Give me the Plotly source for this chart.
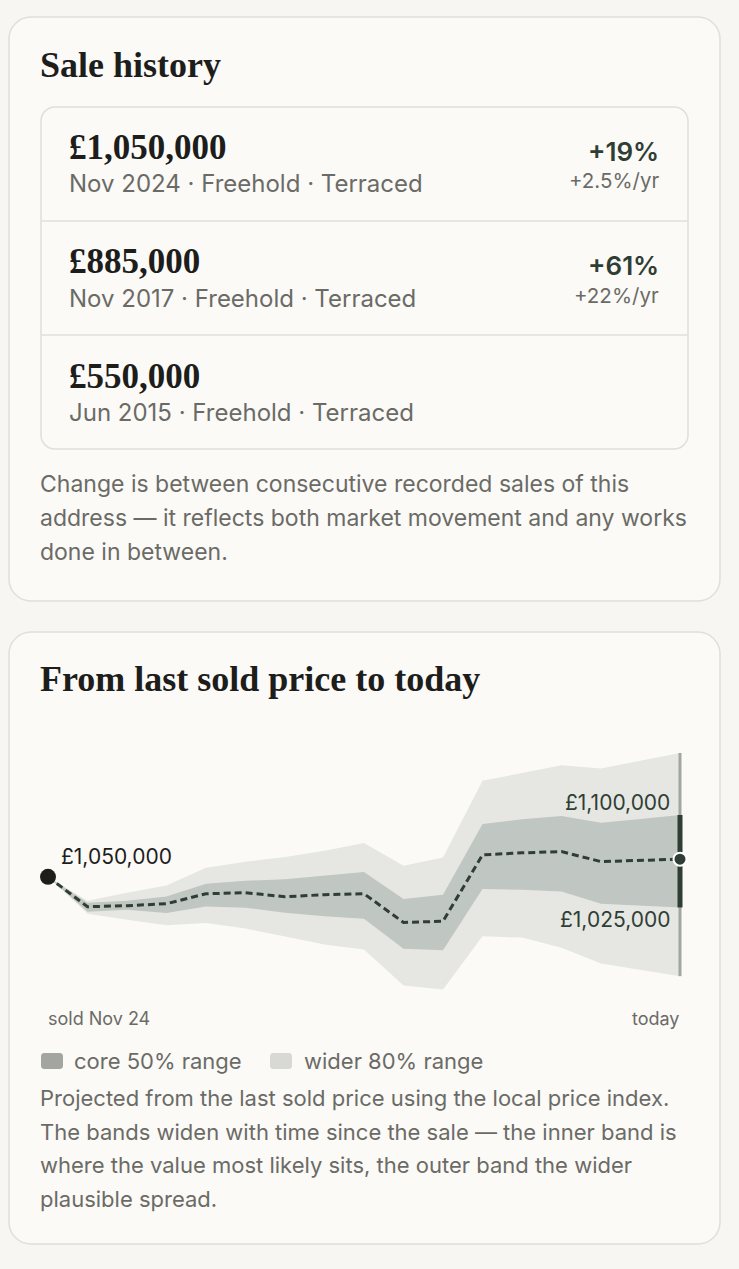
import plotly.graph_objects as go

# ---------------- data ----------------
sales_price = ["£1,050,000", "£885,000", "£550,000"]
sales_meta = ["Nov 2024 · Freehold · Terraced",
              "Nov 2017 · Freehold · Terraced",
              "Jun 2015 · Freehold · Terraced"]
sales_change = ["+19%", "+61%", ""]
sales_change_yr = ["+2.5%/yr", "+22%/yr", ""]

note1_lines = ["Change is between consecutive recorded sales of this",
               "address — it reflects both market movement and any works",
               "done in between."]
note2_lines = ["Projected from the last sold price using the local price index.",
               "The bands widen with time since the sale — the inner band is",
               "where the value most likely sits, the outer band the wider",
               "plausible spread."]

# monthly steps since sale (0 = sold Nov 24, 16 = today)
months = list(range(17))
median = [1050000, 1025800, 1026600, 1028200, 1036300, 1037100, 1033900, 1035500,
          1036300, 1013100, 1014000, 1067700, 1069400, 1070400, 1062300, 1063100, 1064300]
outer_top = [1050000, 1030600, 1037100, 1043000, 1057300, 1062100, 1066100, 1071000,
             1077400, 1058900, 1065600, 1127700, 1133900, 1140300, 1137700, 1144000, 1150200]
outer_bot = [1050000, 1020200, 1015300, 1010700, 1012700, 1008100, 1001600, 995200,
             991100, 962100, 958900, 1001900, 1000800, 992500, 979800, 975000, 969600]
inner_top = [1050000, 1029000, 1030600, 1034100, 1044400, 1046800, 1048100, 1050800,
             1053800, 1032000, 1035500, 1092700, 1096500, 1099200, 1093800, 1096800, 1100000]
inner_bot = [1050000, 1021800, 1023400, 1020700, 1026000, 1025000, 1021000, 1018000,
             1016100, 991700, 990600, 1040100, 1039500, 1038100, 1028200, 1026600, 1025200]
sold_price = 1050000
x_labels = ["sold Nov 24", "today"]
legend_labels = ["core 50% range", "wider 80% range"]

# ---------------- style ----------------
W, H = 739, 1269
PAGE_BG = "#f7f6f2"
CARD_BG = "#fbfaf7"
BORDER = "#e0dfd9"
DARK = "#1d1d1b"
GRAY = "#6b6b66"
GREEN = "#2f3e35"
OUTER = "#e6e7e3"
INNER = "#c0c6c1"
SW_CORE = "#a2a69f"
SW_WIDE = "#d8d9d4"
SERIF = "Liberation Serif"
SANS = "Inter"
PAD = 2  # annotation inner padding compensation


def X(px):
    return px / W


def Y(py):
    return 1 - py / H


def rrect(x0, y0, x1, y1, r, fill, line, lw=1.5):
    k = 0.5523 * r
    pts = [
        f"M {X(x0 + r)},{Y(y0)}",
        f"L {X(x1 - r)},{Y(y0)}",
        f"C {X(x1 - r + k)},{Y(y0)} {X(x1)},{Y(y0 + r - k)} {X(x1)},{Y(y0 + r)}",
        f"L {X(x1)},{Y(y1 - r)}",
        f"C {X(x1)},{Y(y1 - r + k)} {X(x1 - r + k)},{Y(y1)} {X(x1 - r)},{Y(y1)}",
        f"L {X(x0 + r)},{Y(y1)}",
        f"C {X(x0 + r - k)},{Y(y1)} {X(x0)},{Y(y1 - r + k)} {X(x0)},{Y(y1 - r)}",
        f"L {X(x0)},{Y(y0 + r)}",
        f"C {X(x0)},{Y(y0 + r - k)} {X(x0 + r - k)},{Y(y0)} {X(x0 + r)},{Y(y0)}",
        "Z",
    ]
    return dict(type="path", xref="paper", yref="paper", path=" ".join(pts),
                fillcolor=fill, line=dict(color=line, width=lw), layer="below")


def txt(px, py, text, size, color, family=SANS, anchor="left", weight=None):
    f = dict(family=family, size=size, color=color)
    if weight:
        f["weight"] = weight
    xx = px - PAD if anchor == "left" else px + PAD
    return dict(xref="paper", yref="paper", x=X(xx), y=Y(py), text=text,
                showarrow=False, xanchor=anchor, yanchor="middle", font=f)


shapes = []
ann = []

# ---- card 1: sale history ----
shapes.append(rrect(9, 17, 720, 601, 22, CARD_BG, BORDER))
ann.append(txt(40, 65, "<b>Sale history</b>", 36, DARK, SERIF))
shapes.append(rrect(41, 107, 688, 449, 14, CARD_BG, BORDER))
row_top = 107
row_h = 114
for i in range(len(sales_price)):
    top = row_top + i * row_h
    if i > 0:
        shapes.append(dict(type="line", xref="paper", yref="paper",
                           x0=X(41), x1=X(688), y0=Y(top), y1=Y(top),
                           line=dict(color=BORDER, width=1.5)))
    ann.append(txt(69, top + 41, f"<b>{sales_price[i]}</b>", 35, DARK, SERIF))
    ann.append(txt(69, top + 77, sales_meta[i], 24, GRAY))
    if sales_change[i]:
        ann.append(txt(659, top + 45, sales_change[i], 26, GREEN, anchor="right", weight=600))
        ann.append(txt(659, top + 74, sales_change_yr[i], 20.5, GRAY, anchor="right"))
for j, line in enumerate(note1_lines):
    ann.append(txt(40, 484 + 34 * j, line, 23, GRAY))

# ---- card 2: projection ----
shapes.append(rrect(9, 632, 720, 1244, 22, CARD_BG, BORDER))
ann.append(txt(40, 679, "<b>From last sold price to today</b>", 36, DARK, SERIF))

# legend
shapes.append(rrect(41, 1053, 63, 1069, 3, SW_CORE, SW_CORE, 0))
shapes.append(rrect(270, 1053, 292, 1069, 3, SW_WIDE, SW_WIDE, 0))
ann.append(txt(74, 1061, legend_labels[0], 22, GRAY))
ann.append(txt(304, 1061, legend_labels[1], 22, GRAY))
for j, line in enumerate(note2_lines):
    ann.append(txt(40, 1098 + 33.5 * j, line, 22, GRAY))

# ---- chart ----
fig = go.Figure()
rev = months[::-1]
fig.add_trace(go.Scatter(x=months + rev, y=outer_top + outer_bot[::-1], fill="toself",
                         fillcolor=OUTER, line=dict(width=0), mode="lines", hoverinfo="skip"))
fig.add_trace(go.Scatter(x=months + rev, y=inner_top + inner_bot[::-1], fill="toself",
                         fillcolor=INNER, line=dict(width=0), mode="lines", hoverinfo="skip"))
fig.add_trace(go.Scatter(x=months, y=median, mode="lines",
                         line=dict(color=GREEN, width=3, dash="7px,4px")))
last = months[-1]
fig.add_trace(go.Scatter(x=[last, last], y=[outer_bot[-1], outer_top[-1]], mode="lines",
                         line=dict(color="#a3a69f", width=3)))
fig.add_trace(go.Scatter(x=[last, last], y=[inner_bot[-1], inner_top[-1]], mode="lines",
                         line=dict(color=GREEN, width=5)))
fig.add_trace(go.Scatter(x=[0], y=[sold_price], mode="markers", cliponaxis=False,
                         marker=dict(size=16, color=DARK)))
fig.add_trace(go.Scatter(x=[last], y=[median[-1]], mode="markers", cliponaxis=False,
                         marker=dict(size=13, color=GREEN, line=dict(color="white", width=2))))


def money(v):
    return f"£{int(round(v / 5000.0) * 5000):,}"


ann.append(dict(xref="x", yref="y", x=0, y=sold_price, text=money(sold_price),
                showarrow=False, xanchor="left", yanchor="middle", xshift=11, yshift=20,
                font=dict(family=SANS, size=21, color=DARK)))
ann.append(dict(xref="x", yref="y", x=last, y=inner_top[-1], text=money(inner_top[-1]),
                showarrow=False, xanchor="right", yanchor="middle", xshift=-8, yshift=12,
                font=dict(family=SANS, size=21, color=GREEN)))
ann.append(dict(xref="x", yref="y", x=last, y=inner_bot[-1], text=money(inner_bot[-1]),
                showarrow=False, xanchor="right", yanchor="middle", xshift=-8, yshift=-12,
                font=dict(family=SANS, size=21, color=GREEN)))
ann.append(txt(48, 1018, x_labels[0], 18, GRAY))
ann.append(txt(680, 1018, x_labels[1], 18, GRAY, anchor="right"))

# axes placement: month 0 at px 48, month 16 at px 680; £1.1m at py 815, £1.025m at py 907.7
px_per_month = (680 - 48) / 16
xl, xr = 40, 690
x_range = [0 - (48 - xl) / px_per_month, 16 + (xr - 680) / px_per_month]
val_per_px = 75000 / (907.7 - 815)
yt, yb = 740, 1000
y_range = [1100000 - (yb - 815) * val_per_px, 1100000 + (815 - yt) * val_per_px]

fig.update_layout(
    width=W, height=H, margin=dict(l=0, r=0, t=0, b=0),
    paper_bgcolor=PAGE_BG, plot_bgcolor="rgba(0,0,0,0)",
    showlegend=False, shapes=shapes, annotations=ann,
    xaxis=dict(domain=[X(xl), X(xr)], range=x_range, visible=False, fixedrange=True),
    yaxis=dict(domain=[Y(yb), Y(yt)], range=y_range, visible=False, fixedrange=True),
)
fig.write_html("out.html")
